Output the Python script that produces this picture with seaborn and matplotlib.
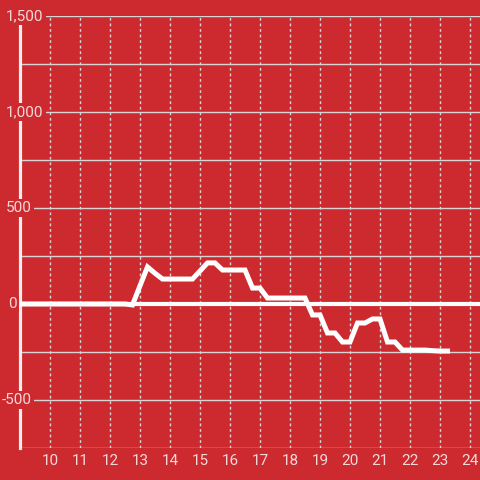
import matplotlib
matplotlib.use('Agg')
import matplotlib.pyplot as plt
import matplotlib.transforms as mtransforms
import seaborn as sns
import pandas as pd

# ---- data ----
hours = [9.0, 9.25, 9.5, 9.75, 10.0, 10.25, 10.5, 10.75, 11.0, 11.25, 11.5, 11.75,
         12.0, 12.25, 12.5, 12.75, 13.0, 13.25, 13.5, 13.75, 14.0, 14.25, 14.5, 14.75,
         15.0, 15.25, 15.5, 15.75, 16.0, 16.25, 16.5, 16.75, 17.0, 17.25, 17.5, 17.75,
         18.0, 18.25, 18.5, 18.75, 19.0, 19.25, 19.5, 19.75, 20.0, 20.25, 20.5, 20.75,
         21.0, 21.25, 21.5, 21.75, 22.0, 22.25, 22.5, 22.75, 23.0, 23.25]
values = [0, 0, 0, 0, 0, 0, 0, 0, 0, 0, 0, 0,
          0, 0, 0, -5, 95, 193, 160, 130, 130, 130, 130, 130,
          172, 214, 214, 177, 177, 177, 177, 83, 83, 31, 31, 31,
          31, 31, 31, -57, -57, -151, -151, -198, -198, -99, -99, -78,
          -78, -198, -198, -240, -240, -240, -240, -243, -245, -245]
x_ticks = list(range(10, 25))
x_tick_labels = [str(t) for t in x_ticks]
y_grid = [-750, -500, -250, 250, 500, 750, 1000, 1250, 1500]
y_ticks = [1500, 1000, 500, 0, -500]
y_tick_labels = ['1,500', '1,000', '500', '0', '-500']

# ---- style ----
BG = '#cc2a2f'
GRID = '#d9d4d4'
TXT = '#f4d8d9'
label_left_px = {1500: 6, 1000: 6, 500: 6, 0: 8, -500: 2}

plt.rcParams['font.family'] = ['Roboto', 'DejaVu Sans']

df = pd.DataFrame({'hour': hours, 'value': values})

fig = plt.figure(figsize=(4.8, 4.8), dpi=100, facecolor=BG)
ax = fig.add_axes([20 / 480, 32 / 480, 460 / 480, 432 / 480])
ax.set_facecolor(BG)

for y in y_grid:
    ax.axhline(y, color=GRID, lw=1, zorder=1)
for x in x_ticks:
    ax.axvline(x, color=GRID, lw=1, ls=(0, (2, 2)), zorder=1)
ax.axhline(0, color='white', lw=3, zorder=3)

sns.lineplot(data=df, x='hour', y='value', color='white', lw=3.6, ax=ax,
             zorder=4, legend=False)
for l in ax.get_lines():
    l.set_solid_joinstyle('miter')

ax.set_xlim(9.0, 9.0 + 460 / 30)
ax.set_ylim(-750, 1500)

ax.set_xticks(x_ticks)
ax.set_xticklabels(x_tick_labels)
ax.set_yticks([])
ax.tick_params(axis='x', length=0, pad=4.5, labelsize=11, colors=TXT)
ax.set_xlabel('')
ax.set_ylabel('')

for s in ['top', 'right', 'bottom']:
    ax.spines[s].set_visible(False)
ax.spines['left'].set_color('#f3eeee')
ax.spines['left'].set_linewidth(2.3)
ax.spines['left'].set_zorder(2.5)

trans = mtransforms.blended_transform_factory(fig.transFigure, ax.transData)
for v, lab in zip(y_ticks, y_tick_labels):
    ax.text(label_left_px[v] / 480, v, lab, transform=trans, ha='left', va='center',
            fontsize=11, color=TXT, zorder=6, clip_on=False,
            bbox=dict(facecolor=BG, edgecolor='none', pad=1.5))

fig.savefig('out.png', dpi=100, facecolor=BG)
